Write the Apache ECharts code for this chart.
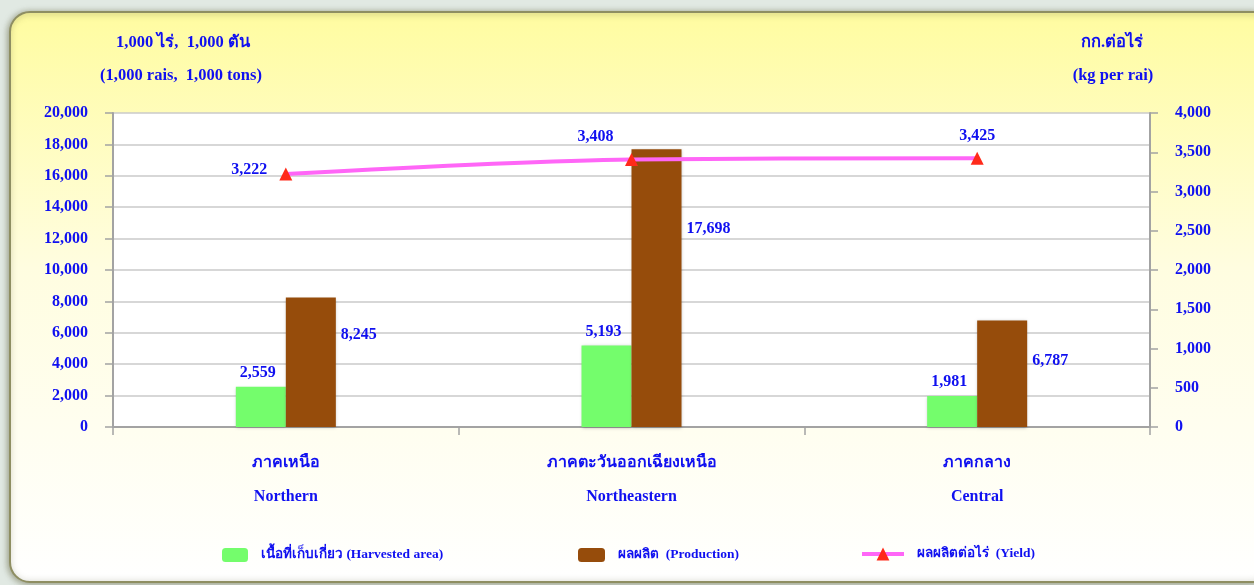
<!DOCTYPE html>
<html>
<head>
<meta charset="utf-8">
<script src="https://cdn.jsdelivr.net/npm/echarts@6/dist/echarts.min.js"></script>
<style>
html,body{margin:0;padding:0;background:#e1e9e3;}
#c{width:1254px;height:585px;}
</style>
</head>
<body>
<div id="c"></div>
<script>
// ---- data ----
const categoriesTh = ['ภาคเหนือ', 'ภาคตะวันออกเฉียงเหนือ', 'ภาคกลาง'];
const categoriesEn = ['Northern', 'Northeastern', 'Central'];
const harvestedArea = [2559, 5193, 1981];
const production = [8245, 17698, 6787];
const yieldKg = [3222, 3408, 3425];
const seriesNames = ['เนื้อที่เก็บเกี่ยว (Harvested area)', 'ผลผลิต  (Production)', 'ผลผลิตต่อไร่  (Yield)'];
const leftTitle = ['1,000 ไร่,  1,000 ตัน', '(1,000 rais,  1,000 tons)'];
const rightTitle = ['กก.ต่อไร่', '(kg per rai)'];

// ---- styling ----
const FONT = "'Liberation Serif', 'Times New Roman', serif";
const BLUE = '#1010f0';
const fmt = v => Number(v).toLocaleString('en-US');
const prodLabelOffsets = [[0, -27], [0, -59], [0, -13]];
const yieldLabelPos = [['left', [-4, -4]], ['top', [-36, 0]], ['top', [0, 0]]];

const chart = echarts.init(document.getElementById('c'));
const labelBase = {show: true, color: BLUE, fontFamily: FONT, fontWeight: 'bold', fontSize: 16, formatter: p => fmt(p.value)};
const titleText = (x, y, t) => ({type: 'text', style: {x: x, y: y, text: t, fill: BLUE, font: 'bold 16.5px ' + FONT, align: 'center', verticalAlign: 'middle'}});
const legendText = {color: BLUE, fontFamily: FONT, fontWeight: 'bold', fontSize: 13.5, padding: [0, 0, 0, 8]};

chart.setOption({
  animation: false,
  graphic: [
    {type: 'rect', z: -10, shape: {x: 10, y: 12, width: 1262, height: 570, r: 20},
     style: {fill: new echarts.graphic.LinearGradient(0, 0, 0, 1, [
        {offset: 0, color: '#fffca0'}, {offset: 0.45, color: '#fffde0'}, {offset: 1, color: '#ffffff'}]),
       stroke: '#8e8e62', lineWidth: 2, shadowBlur: 6, shadowColor: 'rgba(80,80,40,0.5)', shadowOffsetX: -1, shadowOffsetY: 1}},
    titleText(183, 43, leftTitle[0]),
    titleText(181, 76, leftTitle[1]),
    titleText(1112, 43, rightTitle[0]),
    titleText(1113, 76, rightTitle[1])
  ],
  grid: {left: 113, right: 104, top: 113, bottom: 158, show: true, backgroundColor: '#ffffff', borderWidth: 0},
  legend: [
    {data: [seriesNames[0]], left: 222, top: 548, padding: 0, itemWidth: 26, itemHeight: 14, itemGap: 0, textStyle: legendText},
    {data: [seriesNames[1]], left: 578, top: 548, padding: 0, itemWidth: 27, itemHeight: 14, textStyle: legendText},
    {data: [seriesNames[2]], left: 860, top: 547, padding: 0, itemWidth: 42, itemHeight: 16, textStyle: legendText,
     lineStyle: {width: 4}}
  ],
  xAxis: {
    type: 'category',
    data: categoriesTh.map((t, i) => t + '\n' + categoriesEn[i]),
    axisLine: {lineStyle: {color: '#a3a3a3', width: 2}},
    axisTick: {show: true, length: 8, lineStyle: {color: '#a3a3a3', width: 1.5}},
    axisLabel: {color: BLUE, fontFamily: FONT, fontWeight: 'bold', fontSize: 16, lineHeight: 34, margin: 19}
  },
  yAxis: [
    {type: 'value', min: 0, max: 20000, interval: 2000, position: 'left',
     axisLine: {show: true, lineStyle: {color: '#a3a3a3', width: 2}},
     axisTick: {show: true, length: 8, lineStyle: {color: '#a3a3a3', width: 1.5}},
     splitLine: {lineStyle: {color: '#cacaca', width: 1.5}},
     axisLabel: {color: BLUE, fontFamily: FONT, fontWeight: 'bold', fontSize: 16, margin: 25, formatter: fmt}},
    {type: 'value', min: 0, max: 4000, interval: 500, position: 'right',
     axisLine: {show: true, lineStyle: {color: '#a3a3a3', width: 2}},
     axisTick: {show: true, length: 8, lineStyle: {color: '#a3a3a3', width: 1.5}},
     splitLine: {show: false},
     axisLabel: {color: BLUE, fontFamily: FONT, fontWeight: 'bold', fontSize: 16, margin: 25, formatter: fmt}}
  ],
  series: [
    {name: seriesNames[0], type: 'bar', yAxisIndex: 0, data: harvestedArea, barWidth: 50, barGap: '0%',
     itemStyle: {color: '#74fd6c', shadowBlur: 3, shadowColor: 'rgba(0,0,0,0.25)', shadowOffsetY: 1},
     label: Object.assign({}, labelBase, {position: 'top', distance: 6, offset: [-3, 0]})},
    {name: seriesNames[1], type: 'bar', yAxisIndex: 0, barWidth: 50,
     data: production.map((v, i) => ({value: v, label: {offset: prodLabelOffsets[i]}})),
     itemStyle: {color: '#964c0b', shadowBlur: 3, shadowColor: 'rgba(0,0,0,0.25)', shadowOffsetY: 1},
     label: Object.assign({}, labelBase, {position: 'right', distance: 5})},
    {name: seriesNames[2], type: 'line', yAxisIndex: 1, smooth: 0.3,
     data: yieldKg.map((v, i) => ({value: v, label: {position: yieldLabelPos[i][0], offset: yieldLabelPos[i][1]}})),
     lineStyle: {color: '#ff66f7', width: 4},
     itemStyle: {color: '#ff2a1a'},
     symbol: 'triangle', symbolSize: 13,
     label: Object.assign({}, labelBase, {distance: 8})}
  ]
});
</script>
</body>
</html>
